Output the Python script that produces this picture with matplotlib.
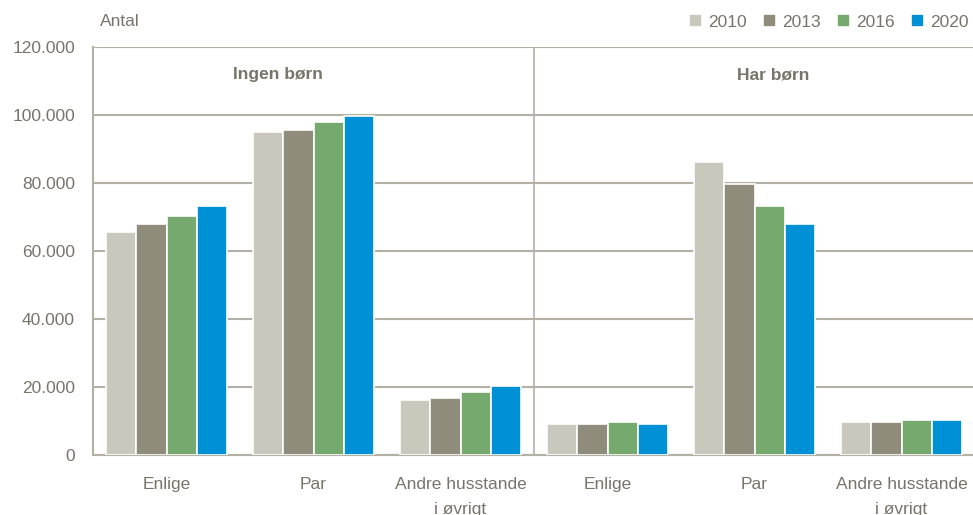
import numpy as np
import matplotlib.pyplot as plt
from matplotlib.lines import Line2D

plt.rcParams['font.family'] = ['Liberation Sans', 'DejaVu Sans']

# Data
categories = ['Enlige', 'Par', 'Andre husstande\ni øvrigt', 'Enlige', 'Par', 'Andre husstande\ni øvrigt']
years = ['2010', '2013', '2016', '2020']
v2010 = [65600, 95000, 16200, 9100, 86200, 9700]
v2013 = [67900, 95600, 16800, 9100, 79700, 9700]
v2016 = [70300, 97900, 18500, 9700, 73200, 10300]
v2020 = [73200, 99700, 20300, 9100, 67900, 10300]
panels = ['Ingen børn', 'Har børn']

colors = ['#C8C8BC', '#8F8C7C', '#76A96E', '#0090D5']
txt = '#77746A'
grid = '#B3B0A4'

fig = plt.figure(figsize=(9.73, 5.15), dpi=100)
ax = fig.add_axes([93/973, 60/515, 882/973, 408/515])

x = np.arange(len(categories))
w = 0.205
series = [v2010, v2013, v2016, v2020]
for i, vals in enumerate(series):
    ax.bar(x + (i - 1.5) * w, vals, width=w, color=colors[i], edgecolor='white',
           linewidth=1.2, zorder=3)

ax.set_xlim(-0.5, 5.5)
ax.set_ylim(0, 120000)
yt = np.arange(0, 120001, 20000)
ax.set_yticks(yt)
ax.set_yticklabels(['0' if v == 0 else '{:,}'.format(v).replace(',', '.') for v in yt])
ax.yaxis.grid(True, color=grid, linewidth=1.5, zorder=0)
ax.set_xticks(x)
ax.set_xticklabels(categories, linespacing=1.85)
ax.tick_params(axis='y', length=0, pad=13, labelsize=12.5, labelcolor=txt)
ax.tick_params(axis='x', length=0, pad=16, labelsize=12.5, labelcolor=txt)

for s in ['top', 'right']:
    ax.spines[s].set_visible(False)
for s in ['left', 'bottom']:
    ax.spines[s].set_color(grid)
    ax.spines[s].set_linewidth(1.5)

# separator between panels
ax.axvline(2.5, color=grid, linewidth=1.2, zorder=2)

ax.text(0.76, 111800, panels[0], ha='center', va='center', fontsize=12.5,
        fontweight='bold', color=txt)
ax.text(4.13, 111800, panels[1], ha='center', va='center', fontsize=12.5,
        fontweight='bold', color=txt)

fig.text(100/973, 1 - 22/515, 'Antal', ha='left', va='center', fontsize=12.5, color=txt)

handles = [Line2D([], [], marker='s', linestyle='none', markersize=7,
                  markerfacecolor=c, markeredgecolor=c) for c in colors]
leg = fig.legend(handles, years, loc='center right', bbox_to_anchor=(1.003, 1 - 22/515),
                 ncol=4, frameon=False, fontsize=12.5, handlelength=0.8,
                 handletextpad=0.35, columnspacing=0.9, borderaxespad=0)
for t in leg.get_texts():
    t.set_color(txt)

fig.savefig('out.png', dpi=100)
